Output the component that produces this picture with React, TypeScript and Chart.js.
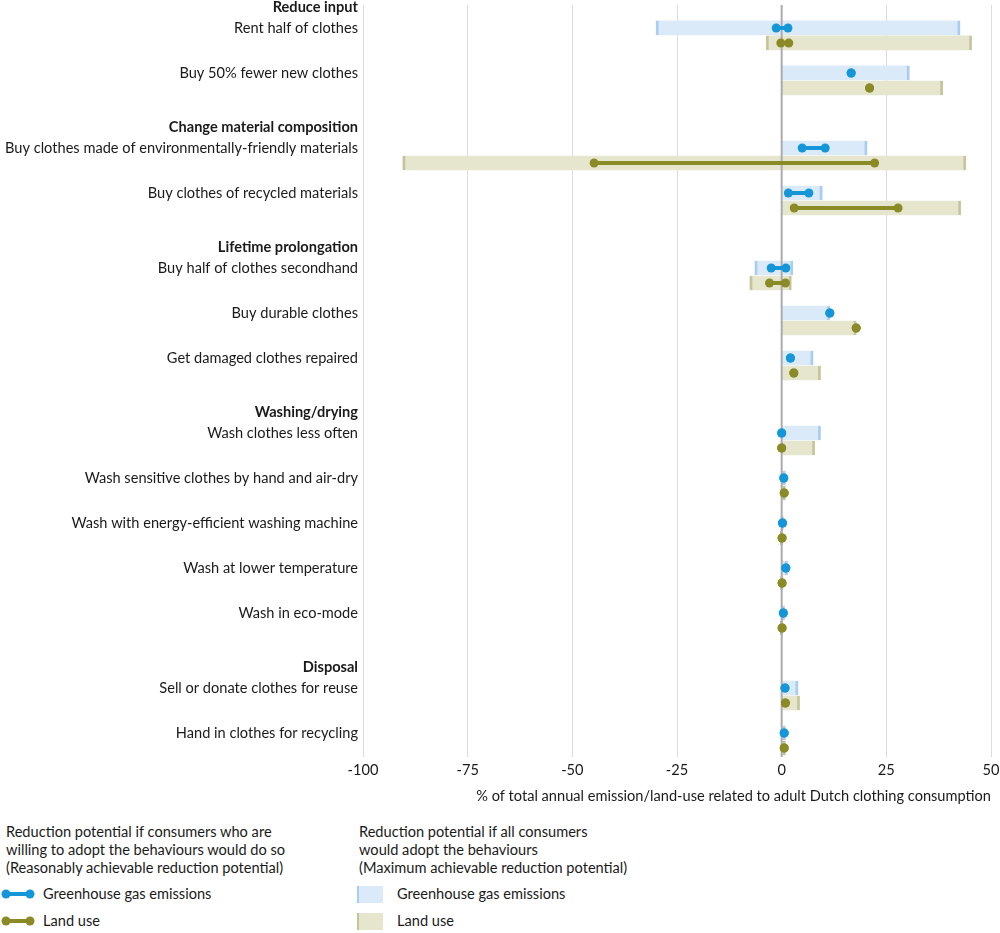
import React, { useEffect, useRef } from "react";
import { Chart, registerables } from "chart.js";

Chart.register(...registerables);

// ---------- DATA ----------
const groupHeadings = [
  "Reduce input",
  "Change material composition",
  "Lifetime prolongation",
  "Washing/drying",
  "Disposal",
];
const groupSizes = [2, 2, 3, 5, 2];
const behaviours = [
  "Rent half of clothes",
  "Buy 50% fewer new clothes",
  "Buy clothes made of environmentally-friendly materials",
  "Buy clothes of recycled materials",
  "Buy half of clothes secondhand",
  "Buy durable clothes",
  "Get damaged clothes repaired",
  "Wash clothes less often",
  "Wash sensitive clothes by hand and air-dry",
  "Wash with energy-efficient washing machine",
  "Wash at lower temperature",
  "Wash in eco-mode",
  "Sell or donate clothes for reuse",
  "Hand in clothes for recycling",
];
// Maximum achievable reduction potential (bars)
const ghgMaxLow = [-30, 0, 0, 0, -6.4, 0, 0, 0, 0, 0, 0, 0, 0, 0];
const ghgMaxHigh = [42.6, 30.5, 20.4, 9.7, 2.7, 11.5, 7.5, 9.3, 0.9, 0.4, 1.4, 0.7, 3.9, 0.9];
const landMaxLow = [-3.7, 0, -90.5, 0, -7.6, 0, 0, 0, 0, 0, 0, 0, 0, 0];
const landMaxHigh = [45.4, 38.5, 44.0, 42.8, 2.3, 17.8, 9.3, 7.9, 0.9, 0.2, 0.3, 0.2, 4.3, 0.9];
// Reasonably achievable reduction potential (dumbbells)
const ghgReasonLow = [-1.3, 16.6, 4.9, 1.6, -2.5, 11.5, 2.1, 0, 0.5, 0.2, 1.0, 0.4, 0.8, 0.6];
const ghgReasonHigh = [1.5, 16.6, 10.4, 6.5, 1.0, 11.5, 2.1, 0, 0.5, 0.2, 1.0, 0.4, 0.8, 0.6];
const landReasonLow = [-0.2, 21.0, -44.8, 3.0, -2.9, 17.8, 2.9, 0, 0.6, 0.1, 0.1, 0.1, 0.9, 0.6];
const landReasonHigh = [1.7, 21.0, 22.2, 27.8, 0.9, 17.8, 2.9, 0, 0.6, 0.1, 0.1, 0.1, 0.9, 0.6];
const xTicks = [-100, -75, -50, -25, 0, 25, 50];
const xTitle = "% of total annual emission/land-use related to adult Dutch clothing consumption";

// ---------- STYLE ----------
const FONT = "Lato, 'Open Sans', sans-serif";
const FS = 14.6;
const FS_Y = 14.6;
const TEXT = "#1a1a1a";
const GHG_DOT = "#1496d8";
const LAND_DOT = "#8a8a26";
const GHG_BAR = "#dbeaf8";
const GHG_CAP = "#a9cdee";
const LAND_BAR = "#e6e6cf";
const LAND_CAP = "#c4c49c";

// Row layout (in row units) derived from the group structure
const ITEM_STEP = 3;
const GROUP_STEP = 5;
const HEADING_OFFSET = 1.4;
const LAND_OFFSET = 1;
const itemPos: number[] = [];
const headingPos: number[] = [];
{
  let p = 0;
  groupSizes.forEach((n, g) => {
    if (g > 0) p += GROUP_STEP - ITEM_STEP;
    headingPos.push(p - HEADING_OFFSET);
    for (let i = 0; i < n; i++) {
      itemPos.push(p);
      p += ITEM_STEP;
    }
  });
}
const tickInfo = [
  ...headingPos.map((v, i) => ({ value: v, text: groupHeadings[i], bold: true })),
  ...itemPos.map((v, i) => ({ value: v, text: behaviours[i], bold: false })),
].sort((a, b) => a.value - b.value);

const dumbbell = (lo: number[], hi: number[], off: number) =>
  lo.flatMap((l, i) => [
    { x: l, y: itemPos[i] + off },
    { x: hi[i], y: itemPos[i] + off },
    { x: null, y: itemPos[i] + off },
  ]);

const capsPlugin = {
  id: "capsAndZero",
  afterDatasetDraw(chart: any, args: any) {
    const idx = args.index;
    if (idx !== 0 && idx !== 1) return;
    const ctx = chart.ctx;
    const meta = chart.getDatasetMeta(idx);
    const lows = idx === 0 ? ghgMaxLow : landMaxLow;
    const highs = idx === 0 ? ghgMaxHigh : landMaxHigh;
    ctx.save();
    ctx.fillStyle = idx === 0 ? GHG_CAP : LAND_CAP;
    const w = 2.5;
    meta.data.forEach((el: any, i: number) => {
      const { x, base, y, height } = el.getProps(["x", "base", "y", "height"], true);
      const top = y - height / 2;
      const right = Math.max(x, base);
      const left = Math.min(x, base);
      const rightVal = Math.max(lows[i], highs[i]);
      const leftVal = Math.min(lows[i], highs[i]);
      if (rightVal !== 0) ctx.fillRect(right - w, top, w, height);
      if (leftVal !== 0) ctx.fillRect(left, top, w, height);
    });
    if (idx === 1) {
      const x0 = chart.scales.x.getPixelForValue(0);
      const { top, bottom } = chart.chartArea;
      ctx.strokeStyle = "#ababab";
      ctx.lineWidth = 2;
      ctx.beginPath();
      ctx.moveTo(x0, top);
      ctx.lineTo(x0, bottom);
      ctx.stroke();
    }
    ctx.restore();
  },
};

function ChartCanvas() {
  const ref = useRef<HTMLCanvasElement | null>(null);
  useEffect(() => {
    document.body.style.margin = "0";
    if (!ref.current) return;
    const chart = new Chart(ref.current, {
      type: "bar",
      data: {
        datasets: [
          {
            type: "bar",
            data: itemPos.map((p, i) => ({ x: [ghgMaxLow[i], ghgMaxHigh[i]], y: p })) as any,
            backgroundColor: GHG_BAR,
            borderWidth: 0,
            barThickness: 14,
            grouped: false,
            order: 4,
          } as any,
          {
            type: "bar",
            data: itemPos.map((p, i) => ({ x: [landMaxLow[i], landMaxHigh[i]], y: p + LAND_OFFSET })) as any,
            backgroundColor: LAND_BAR,
            borderWidth: 0,
            barThickness: 14,
            grouped: false,
            order: 3,
          } as any,
          {
            type: "line",
            data: dumbbell(ghgReasonLow, ghgReasonHigh, 0) as any,
            borderColor: GHG_DOT,
            backgroundColor: GHG_DOT,
            borderWidth: 4,
            pointRadius: 4.5,
            pointBorderWidth: 0,
            pointBackgroundColor: GHG_DOT,
            spanGaps: false,
            order: 1,
          } as any,
          {
            type: "line",
            data: dumbbell(landReasonLow, landReasonHigh, LAND_OFFSET) as any,
            borderColor: LAND_DOT,
            backgroundColor: LAND_DOT,
            borderWidth: 4,
            pointRadius: 4.5,
            pointBorderWidth: 0,
            pointBackgroundColor: LAND_DOT,
            spanGaps: false,
            order: 2,
          } as any,
        ],
      },
      options: {
        indexAxis: "y",
        animation: false,
        responsive: true,
        maintainAspectRatio: false,
        layout: { padding: { top: 5, right: 9, left: 0, bottom: 0 } },
        plugins: { legend: { display: false }, tooltip: { enabled: false } },
        scales: {
          x: {
            type: "linear",
            min: -100,
            max: 50,
            offset: false,
            afterBuildTicks: (scale: any) => {
              scale.ticks = xTicks.map((v) => ({ value: v }));
            },
            afterFit: (scale: any) => {
              scale.height = 53;
              scale.paddingRight = 0;
              scale.paddingLeft = 0;
            },
            grid: {
              drawTicks: false,
              offset: false,
              color: (c: any) => (c.tick && c.tick.value === 0 ? "rgba(0,0,0,0)" : "#dcdcdc"),
              lineWidth: 1,
            },
            border: { display: false },
            ticks: {
              padding: 5,
              color: TEXT,
              font: { family: FONT, size: FS },
            },
            title: {
              display: true,
              text: xTitle,
              align: "end",
              color: TEXT,
              font: { family: FONT, size: FS },
              padding: { top: 4, bottom: 5 },
            },
          },
          y: {
            type: "linear",
            reverse: true,
            offset: false,
            min: -1.53,
            max: 48.6,
            afterBuildTicks: (scale: any) => {
              scale.ticks = tickInfo.map((t) => ({ value: t.value }));
            },
            afterFit: (scale: any) => {
              scale.width = 363;
              scale.paddingTop = 0;
              scale.paddingBottom = 0;
            },
            grid: { display: false, drawTicks: false, offset: false },
            border: { display: false },
            ticks: {
              autoSkip: false,
              padding: 5,
              color: TEXT,
              callback: (_v: any, i: number) => tickInfo[i]?.text ?? "",
              font: (c: any) => ({
                family: FONT,
                size: FS_Y,
                weight: tickInfo[c.index]?.bold ? "bold" : "normal",
              }),
            },
          },
        },
      } as any,
      plugins: [capsPlugin],
    });
    return () => chart.destroy();
  }, []);
  return (
    <div style={{ position: "absolute", left: 0, top: 0, width: 1000, height: 810 }}>
      <canvas ref={ref} />
    </div>
  );
}

const txt: React.CSSProperties = {
  position: "absolute",
  fontFamily: FONT,
  fontSize: FS,
  color: TEXT,
  lineHeight: "18px",
  whiteSpace: "nowrap",
};

function DumbbellIcon({ color }: { color: string }) {
  return (
    <svg width="36" height="12" style={{ position: "absolute", left: 0, top: 0 }}>
      <line x1="6" y1="6" x2="30" y2="6" stroke={color} strokeWidth="4" />
      <circle cx="6" cy="6" r="4.5" fill={color} />
      <circle cx="30" cy="6" r="4.5" fill={color} />
    </svg>
  );
}

function BarIcon({ fill, cap }: { fill: string; cap: string }) {
  return (
    <div style={{ position: "absolute", left: 0, top: 0, width: 26, height: 17, background: fill }}>
      <div style={{ position: "absolute", left: 0, top: 0, width: 2, height: 17, background: cap }} />
    </div>
  );
}

export default function App() {
  return (
    <div style={{ position: "relative", width: 1000, height: 933, overflow: "hidden" }}>
      <ChartCanvas />
      <div style={{ ...txt, left: 6, top: 823 }}>
        Reduction potential if consumers who are
        <br />
        willing to adopt the behaviours would do so
        <br />
        (Reasonably achievable reduction potential)
      </div>
      <div style={{ ...txt, left: 359, top: 823 }}>
        Reduction potential if all consumers
        <br />
        would adopt the behaviours
        <br />
        (Maximum achievable reduction potential)
      </div>
      <div style={{ position: "absolute", left: 0, top: 888, width: 40, height: 12 }}>
        <DumbbellIcon color={GHG_DOT} />
      </div>
      <div style={{ ...txt, left: 43, top: 885 }}>Greenhouse gas emissions</div>
      <div style={{ position: "absolute", left: 0, top: 915, width: 40, height: 12 }}>
        <DumbbellIcon color={LAND_DOT} />
      </div>
      <div style={{ ...txt, left: 43, top: 912 }}>Land use</div>
      <div style={{ position: "absolute", left: 357, top: 886, width: 26, height: 17 }}>
        <BarIcon fill={GHG_BAR} cap={GHG_CAP} />
      </div>
      <div style={{ ...txt, left: 397, top: 885 }}>Greenhouse gas emissions</div>
      <div style={{ position: "absolute", left: 357, top: 913, width: 26, height: 17 }}>
        <BarIcon fill={LAND_BAR} cap={LAND_CAP} />
      </div>
      <div style={{ ...txt, left: 397, top: 912 }}>Land use</div>
    </div>
  );
}
